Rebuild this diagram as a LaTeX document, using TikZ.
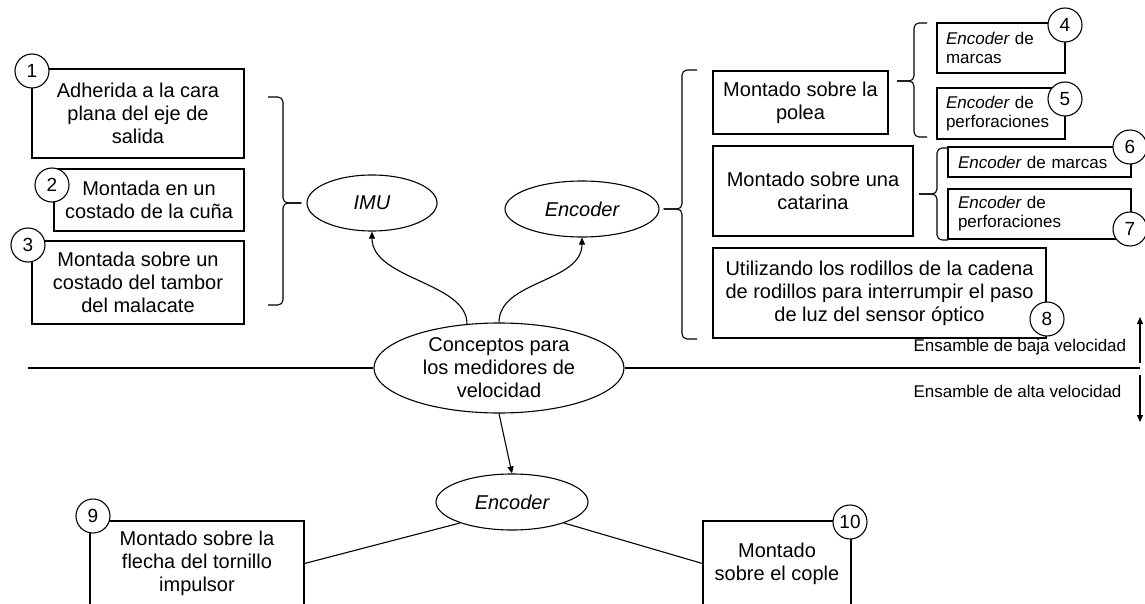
\documentclass[tikz,border=0pt]{standalone}
\usepackage{fontspec}
\setmainfont{Liberation Sans}
\usetikzlibrary{shapes.geometric,arrows.meta}
\begin{document}
\begin{tikzpicture}[x=1pt,y=-1pt, line width=1.1pt,
  big/.style={font=\fontsize{20}{23}\selectfont},
  small/.style={font=\fontsize{17}{19}\selectfont},
  box/.style={draw, rectangle, inner sep=0pt, align=center, big},
  sbox/.style={draw, rectangle, inner ysep=0pt, inner xsep=9pt, align=left, small},
  oval/.style={draw, ellipse, inner sep=0pt, align=center, big, fill=white},
  num/.style={draw, circle, fill=white, minimum size=34pt, inner sep=0pt, font=\fontsize{19}{19}\selectfont},
  arr/.style={-{Triangle[length=7pt,width=6pt]}},
  brace/.style={rounded corners=5pt}
]
\clip (0,0) rectangle (1145,604);
\fill[white] (0,0) rectangle (1145,604);

% left boxes
\node[box, minimum width=212pt, minimum height=89pt] (b1) at (138,113.5) {Adherida a la cara\\plana del eje de\\salida};
\node[box, minimum width=190pt, minimum height=62pt] (b2) at (149,200) {Montada en un\\costado de la cuña};
\node[box, minimum width=212pt, minimum height=83pt] (b3) at (138,282.5) {Montada sobre un\\costado del tambor\\del malacate};

% ellipses
\node[oval, minimum width=130pt, minimum height=56pt] (imu) at (372,203) {\itshape IMU};
\node[oval, minimum width=154pt, minimum height=56pt] (enc1) at (582,209) {\itshape Encoder};
\node[oval, minimum width=250pt, minimum height=90pt] (cen) at (499,368) {Conceptos para\\los medidores de\\velocidad};
\node[oval, minimum width=152pt, minimum height=56pt] (enc2) at (512,502) {\itshape Encoder};

% right boxes
\node[box, minimum width=175pt, minimum height=63pt] (polea) at (800.5,102.5) {Montado sobre la\\polea};
\node[box, minimum width=200pt, minimum height=90pt] (cat) at (813,191) {Montado sobre una\\catarina};
\node[box, minimum width=333pt, minimum height=90pt] (b8) at (879.5,293) {Utilizando los rodillos de la cadena\\de rodillos para interrumpir el paso\\de luz del sensor óptico};

\node[sbox, text width=110pt, minimum height=50pt] (b4) at (1001,48) {{\itshape Encoder} de\\marcas};
\node[sbox, text width=110pt, minimum height=51pt] (b5) at (1001,113.5) {{\itshape Encoder} de\\perforaciones};
\node[sbox, text width=163pt, minimum height=30pt, inner xsep=10pt] (b6) at (1039.5,162) {{\itshape Encoder} de marcas};
\node[sbox, text width=163pt, minimum height=50pt, inner xsep=10pt] (b7) at (1039.5,214) {{\itshape Encoder} de\\perforaciones};

% bottom boxes
\node[box, minimum width=214pt, minimum height=85pt] (b9) at (197,563.5) {Montado sobre la\\flecha del tornillo\\impulsor};
\node[box, minimum width=148pt, minimum height=85pt] (b10) at (777,563.5) {Montado\\sobre el cople};

% braces
\coordinate (timu) at ([xshift=-5pt]imu.west);
\draw[brace] (268,97) -- (283,97) |- (timu);
\draw[brace] (268,305) -- (283,305) |- (timu);
\coordinate (tenc) at ([xshift=4pt]enc1.east);
\draw[brace] (697,70) -- (682,70) |- (tenc);
\draw[brace] (697,339) -- (682,339) |- (tenc);
\coordinate (tpol) at (897,81);
\draw[brace] (927,23) -- (914,23) |- (tpol);
\draw[brace] (927,137) -- (914,137) |- (tpol);
\coordinate (tcat) at (919,194);
\draw[brace] (948,148) -- (937,148) |- (tcat);
\draw[brace] (948,240) -- (937,240) |- (tcat);

% connectors
\draw[arr] (cen.126) .. controls +(0,-42) and +(0,48) .. (imu.south);
\draw[arr] (cen.north) .. controls +(0,-42) and +(0,45) .. (enc1.south);
\draw[arr] (cen.south) -- (enc2.north);
\draw (enc2.202) -- (b9.east);
\draw (enc2.338) -- (b10.west);

% horizontal divider
\coordinate (hl) at (28,368);
\coordinate (hr) at (1140,368);
\draw (hl) -- (cen.west);
\draw (cen.east) -- (hr);

% side arrows and labels
\coordinate (ua) at (1140,363);
\coordinate (ub) at (1140,317);
\draw[arr] (ua) -- (ub);
\coordinate (da) at (1140,375);
\coordinate (db) at (1140,422);
\draw[arr] (da) -- (db);
\node[small, anchor=west, inner sep=0pt] (lb) at (913,347) {Ensamble de baja velocidad};
\node[small, anchor=west, inner sep=0pt] (la) at (913,391) {Ensamble de alta velocidad};

% numbers
\node[num] (n1) at (32,71) {1};
\node[num] (n2) at (52,185) {2};
\node[num] (n3) at (28,245) {3};
\node[num] (n4) at (1065,25) {4};
\node[num] (n5) at (1065,99) {5};
\node[num] (n6) at (1130,147) {6};
\node[num] (n7) at (1130,229) {7};
\node[num] (n8) at (1047,319) {8};
\node[num] (n9) at (93,516) {9};
\node[num] (n10) at (850,522) {10};
\end{tikzpicture}
\end{document}
